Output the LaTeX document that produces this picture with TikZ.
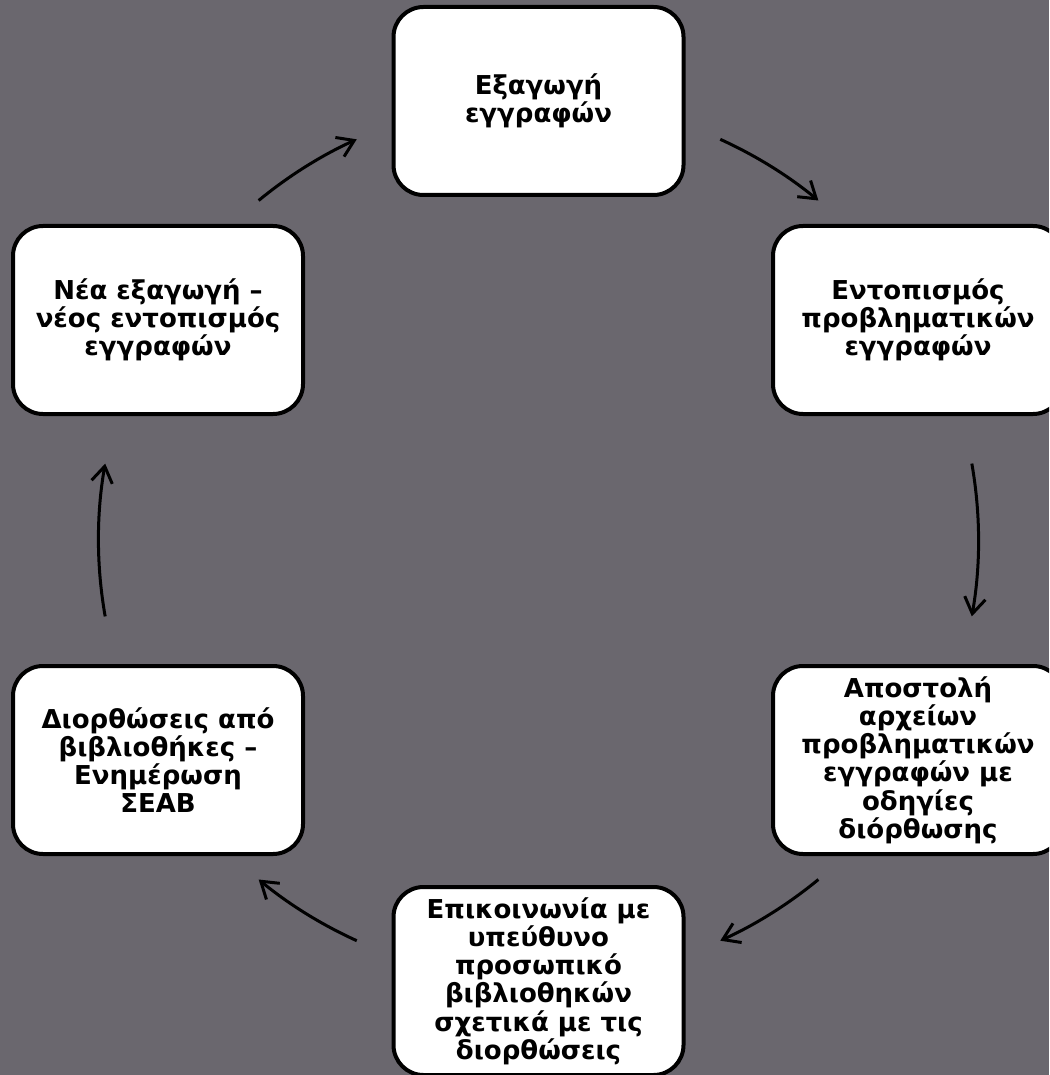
\documentclass[tikz,border=0pt]{standalone}
\usepackage{fontspec}
\setmainfont{DejaVu Sans}
\usetikzlibrary{arrows.meta}
\definecolor{bg}{RGB}{106,103,110}
\tikzset{
  stepbox/.style={draw=black, fill=white, line width=4pt, rounded corners=30pt,
    minimum width=290pt, minimum height=188pt, align=center, inner sep=2pt,
    font=\fontsize{26}{28.2}\selectfont\bfseries},
  cyc/.style={draw=black, line width=3pt, -{Straight Barb[length=16pt,width=21pt,line width=3pt]}}
}
\begin{document}
\begin{tikzpicture}[x=1pt,y=-1pt]
\useasboundingbox (0,0) rectangle (1049,1075);
\clip (0,0) rectangle (1049,1075);
\fill[bg] (0,0) rectangle (1049,1075);
\coordinate (c) at (538.5,540);
\node[stepbox] (n1) at (538.5,101) {Εξαγωγή\\εγγραφών};
\node[stepbox] (n2) at (918,320) {Εντοπισμός\\προβληματικών\\εγγραφών};
\node[stepbox] (n3) at (918,760) {Αποστολή\\αρχείων\\προβληματικών\\εγγραφών με\\οδηγίες\\διόρθωσης};
\node[stepbox] (n4) at (538.5,981) {Επικοινωνία με\\υπεύθυνο\\προσωπικό\\βιβλιοθηκών\\σχετικά με τις\\διορθώσεις};
\node[stepbox] (n5) at (158,760) {Διορθώσεις από\\βιβλιοθήκες –\\Ενημέρωση\\ΣΕΑΒ};
\node[stepbox] (n6) at (158,320) {Νέα εξαγωγή –\\νέος εντοπισμός\\εγγραφών};
% arcs on circle centred at c, radius 440 (angles measured with y downward)
\draw[cyc] ([shift={(-129.5:440)}]c) arc[start angle=-129.5, end angle=-114.4, radius=440];
\draw[cyc] ([shift={(-65.6:440)}]c) arc[start angle=-65.6, end angle=-50.5, radius=440];
\draw[cyc] ([shift={(-10:440)}]c) arc[start angle=-10, end angle=10, radius=440];
\draw[cyc] ([shift={(50.5:440)}]c) arc[start angle=50.5, end angle=65.6, radius=440];
\draw[cyc] ([shift={(114.4:440)}]c) arc[start angle=114.4, end angle=129.5, radius=440];
\draw[cyc] ([shift={(170:440)}]c) arc[start angle=170, end angle=190, radius=440];
\end{tikzpicture}
\end{document}
